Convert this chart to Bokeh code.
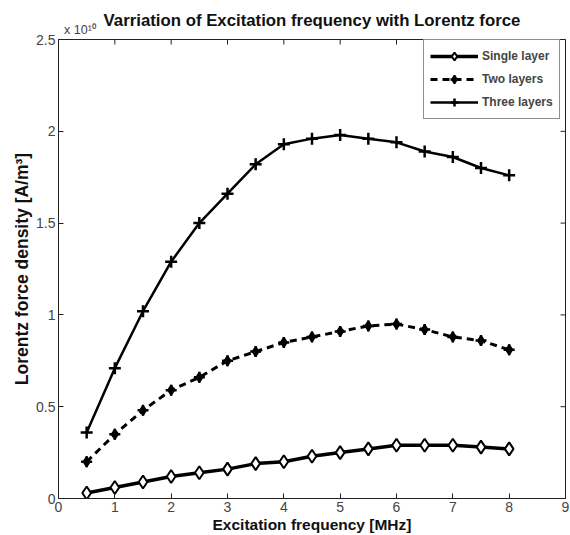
import math
from bokeh.plotting import figure
from bokeh.models import LinearAxis, FixedTicker, Range1d, Legend
from bokeh.embed import file_html
from bokeh.resources import INLINE

# Data (Lorentz force density in units of 1e10 A/m^3)
freq = [0.5, 1, 1.5, 2, 2.5, 3, 3.5, 4, 4.5, 5, 5.5, 6, 6.5, 7, 7.5, 8]
single_layer = [0.03, 0.06, 0.09, 0.12, 0.14, 0.16, 0.19, 0.20, 0.23, 0.25, 0.27, 0.29, 0.29, 0.29, 0.28, 0.27]
two_layers = [0.20, 0.35, 0.48, 0.59, 0.66, 0.75, 0.80, 0.85, 0.88, 0.91, 0.94, 0.95, 0.92, 0.88, 0.86, 0.81]
three_layers = [0.36, 0.71, 1.02, 1.29, 1.50, 1.66, 1.82, 1.93, 1.96, 1.98, 1.96, 1.94, 1.89, 1.86, 1.80, 1.76]
x_ticks = [0, 1, 2, 3, 4, 5, 6, 7, 8, 9]
y_ticks = [0, 0.5, 1, 1.5, 2, 2.5]
y_tick_labels = ["0", "0.5", "1", "1.5", "2", "2.5"]
title_text = "Varriation of Excitation frequency with Lorentz force"
exponent_text = "x 10¹⁰"
X_MIN, X_MAX, Y_MIN, Y_MAX = 0, 9, 0, 2.5

FONT = "Liberation Sans"
TICKFONT = "'Liberation Sans Narrow', 'Liberation Sans'"

p = figure(width=570, height=535, output_backend="svg", toolbar_location=None,
           x_range=Range1d(X_MIN, X_MAX), y_range=Range1d(Y_MIN, Y_MAX),
           min_border_left=58, min_border_right=5, min_border_top=39, min_border_bottom=37)
p.background_fill_color = "white"
p.border_fill_color = "white"
p.xgrid.visible = False
p.ygrid.visible = False
p.outline_line_color = "#222222"
p.outline_line_width = 1

for ax in (p.xaxis[0], p.yaxis[0]):
    ax.major_tick_in = 5
    ax.major_tick_out = 0
    ax.minor_tick_in = 0
    ax.minor_tick_out = 0
    ax.axis_line_color = "#222222"
    ax.major_tick_line_color = "#222222"
    ax.major_label_text_font = TICKFONT
    ax.major_label_text_font_size = "14px"
    ax.major_label_text_color = "#444444"
    ax.axis_label_text_font = FONT
    ax.axis_label_text_font_style = "bold"
    ax.axis_label_text_color = "#111111"

p.xaxis[0].ticker = FixedTicker(ticks=x_ticks)
p.yaxis[0].ticker = FixedTicker(ticks=y_ticks)
p.yaxis[0].major_label_overrides = {t: l for t, l in zip(y_ticks, y_tick_labels)}
p.xaxis[0].axis_label = "Excitation frequency [MHz]"
p.yaxis[0].axis_label = "Lorentz force density [A/m³]"
p.xaxis[0].axis_label_text_font_size = "15.5px"
p.yaxis[0].axis_label_text_font_size = "17.5px"
p.xaxis[0].major_label_standoff = 3
p.yaxis[0].major_label_standoff = 3
p.xaxis[0].axis_label_standoff = 1
p.yaxis[0].axis_label_standoff = 1

# top axis carrying the exponent marker and the chart title (no line, no ticks)
top = LinearAxis(ticker=FixedTicker(ticks=[0.38]),
                 major_label_overrides={0.38: exponent_text},
                 major_label_text_font=FONT, major_label_text_font_size="12.5px",
                 major_label_text_color="#444444", major_label_standoff=3,
                 major_tick_in=0, major_tick_out=0, minor_tick_in=0, minor_tick_out=0,
                 axis_line_color=None, major_tick_line_color=None,
                 axis_label=title_text, axis_label_text_font=FONT,
                 axis_label_text_font_style="bold", axis_label_text_font_size="16.8px",
                 axis_label_text_color="#111111", axis_label_standoff=-10)
p.add_layout(top, "above")

# mirrored inward ticks on the top and right frame edges
p.scatter(x_ticks, [Y_MAX] * len(x_ticks), marker="dash", angle=math.pi / 2, size=10,
          line_color="#222222", line_width=1)
p.scatter([X_MAX] * len(y_ticks), y_ticks, marker="dash", size=10,
          line_color="#222222", line_width=1)

# series
r1l = p.line(freq, single_layer, line_color="black", line_width=3.5)
r1m = p.scatter(freq, single_layer, marker="diamond", size=13, fill_color="white",
                line_color="black", line_width=2)
r2l = p.line(freq, two_layers, line_color="black", line_width=3, line_dash="7 5")
r2m = p.scatter(freq, two_layers, marker="diamond", size=10, fill_color="black",
                line_color="black", line_width=1.5)
r2c = p.scatter(freq, two_layers, marker="cross", size=11, line_color="black", line_width=2.5)
r3l = p.line(freq, three_layers, line_color="black", line_width=2.5)
r3m = p.scatter(freq, three_layers, marker="cross", size=12, line_color="black", line_width=2.5)

legend = Legend(items=[("Single layer", [r1l, r1m]),
                       ("Two layers", [r2l, r2m, r2c]),
                       ("Three layers", [r3l, r3m])],
                location=(365, 379))
legend.label_text_font = FONT
legend.label_text_font_style = "bold"
legend.label_text_font_size = "12px"
legend.glyph_width = 48
legend.glyph_height = 20
legend.label_height = 20
legend.spacing = 3
legend.padding = 6
legend.label_standoff = 4
legend.border_line_color = "#222222"
legend.border_line_width = 1
legend.background_fill_color = "white"
legend.background_fill_alpha = 1
p.add_layout(legend, "center")

open("out.html", "w").write(file_html(p, INLINE))
